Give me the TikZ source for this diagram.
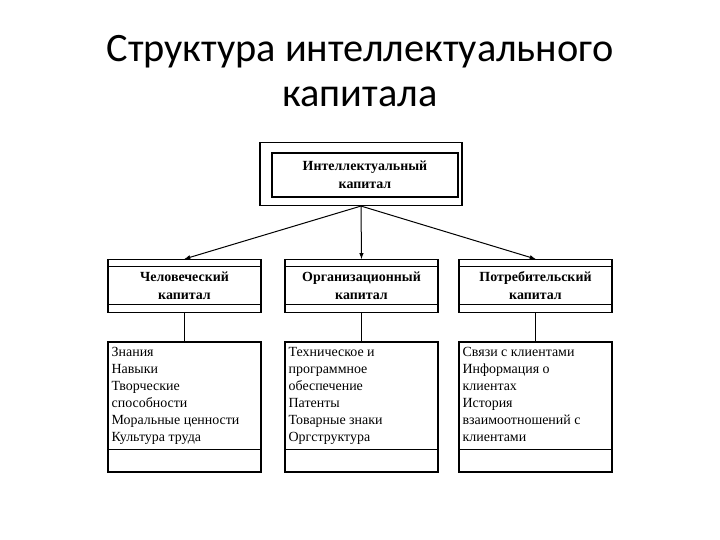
\documentclass[tikz,border=0pt]{standalone}
\usepackage{fontspec}
\setmainfont{Liberation Serif}
\newfontfamily\titlefont{Carlito}
\tikzset{>=latex}
\tikzset{
    head/.style={draw, line width=1.1bp, minimum width=153bp, minimum height=53bp, inner sep=0pt, align=center, font=\bfseries\fontsize{14}{18}\selectfont},
    list/.style={draw, line width=1.1bp, minimum width=153bp, minimum height=130bp, inner sep=0pt},
    items/.style={anchor=north west, align=left, inner sep=0pt, font=\fontsize{14}{17}\selectfont},
    link/.style={->, line width=1bp},
}

\begin{document}
\begin{tikzpicture}[x=1bp,y=-1bp]
    \useasboundingbox (0,0) rectangle (720,540);

    \node[anchor=base, font=\titlefont\fontsize{40.5}{44}\selectfont] at (360,62) (t1) {Структура интеллектуального};
    \node[anchor=base, font=\titlefont\fontsize{40.5}{44}\selectfont] at (360,107) (t2) {капитала};

    \node[draw, line width=1.1bp, minimum width=202bp, minimum height=63bp] at (361,174) (ic) {};
    \node[draw, line width=1.1bp, minimum width=186bp, minimum height=44bp, align=center, font=\bfseries\fontsize{14}{18}\selectfont] at (365,175) (ict) {Интеллектуальный\\капитал};

    \node[head] at (184.5,286) (h1) {Человеческий\\капитал};
    \node[head] at (361.5,286) (h2) {Организационный\\капитал};
    \node[head] at (535.5,286) (h3) {Потребительский\\капитал};

    \draw[line width=1.1bp] ([yshift=-8bp]h1.north west) -- ([yshift=-8bp]h1.north east);
    \draw[line width=1.1bp] ([yshift=9bp]h1.south west) -- ([yshift=9bp]h1.south east);
    \draw[line width=1.1bp] ([yshift=-8bp]h2.north west) -- ([yshift=-8bp]h2.north east);
    \draw[line width=1.1bp] ([yshift=9bp]h2.south west) -- ([yshift=9bp]h2.south east);
    \draw[line width=1.1bp] ([yshift=-8bp]h3.north west) -- ([yshift=-8bp]h3.north east);
    \draw[line width=1.1bp] ([yshift=9bp]h3.south west) -- ([yshift=9bp]h3.south east);

    \node[list] at (184.5,407) (k1) {};
    \node[list] at (361.5,407) (k2) {};
    \node[list] at (535.5,407) (k3) {};

    \draw[line width=1.1bp] ([yshift=23bp]k1.south west) -- ([yshift=23bp]k1.south east);
    \draw[line width=1.1bp] ([yshift=23bp]k2.south west) -- ([yshift=23bp]k2.south east);
    \draw[line width=1.1bp] ([yshift=23bp]k3.south west) -- ([yshift=23bp]k3.south east);

    \node[items] at ([xshift=4bp,yshift=-6bp]k1.north west) (l1) {Знания\\Навыки\\Творческие\\способности\\Моральные ценности\\Культура труда};
    \node[items] at ([xshift=4bp,yshift=-6bp]k2.north west) (l2) {Техническое и\\программное\\обеспечение\\Патенты\\Товарные знаки\\Оргструктура};
    \node[items] at ([xshift=4bp,yshift=-6bp]k3.north west) (l3) {Связи с клиентами\\Информация о\\клиентах\\История\\взаимоотношений с\\клиентами};

    \draw[link] (ic.south) -- (h1.north);
    \draw[link] (ic.south) -- (h2.north);
    \draw[link] (ic.south) -- (h3.north);

    \draw[line width=1.1bp] (h1.south) -- (k1.north);
    \draw[line width=1.1bp] (h2.south) -- (k2.north);
    \draw[line width=1.1bp] (h3.south) -- (k3.north);

\end{tikzpicture}
\end{document}
